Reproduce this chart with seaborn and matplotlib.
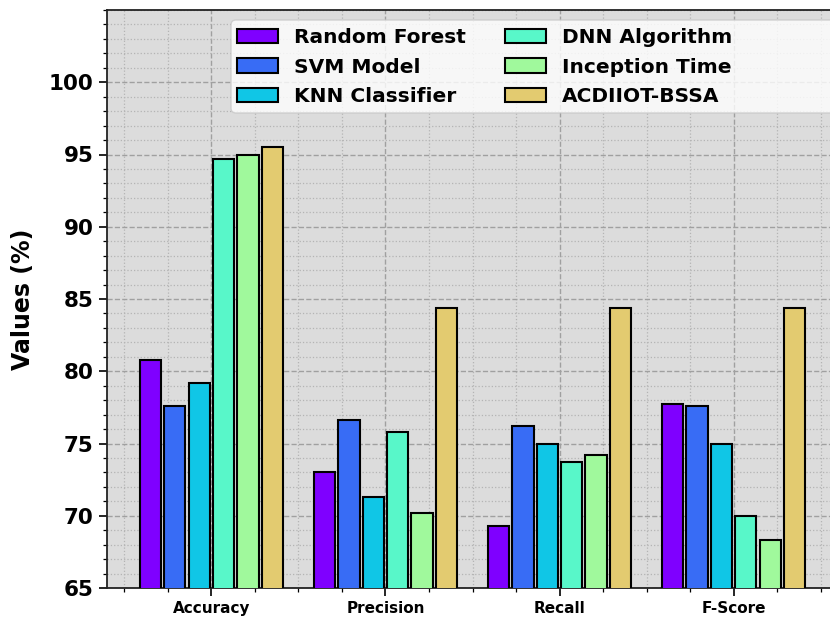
import matplotlib
matplotlib.use("Agg")
import matplotlib.pyplot as plt
from matplotlib.ticker import MultipleLocator
from matplotlib.patches import FancyBboxPatch
import pandas as pd
import seaborn as sns

metrics = ["Accuracy", "Precision", "Recall", "F-Score"]
models = ["Random Forest", "SVM Model", "KNN Classifier",
          "DNN Algorithm", "Inception Time", "ACDIIOT-BSSA"]
random_forest = [80.8, 73.0, 69.3, 77.7]
svm_model = [77.6, 76.6, 76.2, 77.6]
knn_classifier = [79.2, 71.3, 75.0, 75.0]
dnn_algorithm = [94.7, 75.8, 73.7, 70.0]
inception_time = [95.0, 70.2, 74.2, 68.3]
acdiiot_bssa = [95.5, 84.4, 84.4, 84.4]
colors = ["#7f00ff", "#386cf5", "#10c6e6", "#58f7c9", "#a0f99c", "#e3cb70"]

series = [random_forest, svm_model, knn_classifier,
          dnn_algorithm, inception_time, acdiiot_bssa]
rows = []
for model, vals in zip(models, series):
    for metric, v in zip(metrics, vals):
        rows.append({"Metric": metric, "Model": model, "Value": v})
df = pd.DataFrame(rows)

sns.set_theme(style="ticks")
plt.rcParams["font.family"] = ["DejaVu Sans"]
plt.rcParams["text.color"] = "black"
plt.rcParams["axes.labelcolor"] = "black"
plt.rcParams["xtick.color"] = "black"
plt.rcParams["ytick.color"] = "black"

W, H = 830, 619
fig = plt.figure(figsize=(W / 100, H / 100), dpi=100)
ax = fig.add_axes([107 / W, 31 / H, 731 / W, 578 / H])
ax.set_facecolor("#dcdcdc")

sns.barplot(data=df, x="Metric", y="Value", hue="Model", order=metrics,
            hue_order=models, palette=colors, saturation=1, width=0.84,
            gap=0.13, edgecolor="black", linewidth=1.5, ax=ax, legend=True,
            zorder=3)

ax.set_ylim(65, 105)
ax.set_xlim(-0.6, 3.6)
ax.set_yticks([65, 70, 75, 80, 85, 90, 95, 100])
ax.yaxis.set_minor_locator(MultipleLocator(1))
ax.xaxis.set_minor_locator(MultipleLocator(0.25))

ax.grid(which="major", linestyle="--", color="#a0a0a0", linewidth=1.0, zorder=0)
ax.grid(which="minor", linestyle=":", color="#b4b4b4", linewidth=0.9, zorder=0)
ax.set_axisbelow(True)

ax.tick_params(axis="y", which="major", direction="out", length=6, width=1.2,
               labelsize=15.5)
ax.tick_params(axis="y", which="minor", direction="out", length=3, width=0.9)
ax.tick_params(axis="x", which="major", direction="out", length=6, width=1.2,
               labelsize=11)
ax.tick_params(axis="x", which="minor", direction="out", length=3, width=0.9)
for lbl in ax.get_yticklabels() + ax.get_xticklabels():
    lbl.set_fontweight("bold")

ax.set_xlabel("")
ax.set_ylabel("Values (%)", fontsize=17, fontweight="bold", labelpad=10)

for side in ["left", "bottom", "top", "right"]:
    ax.spines[side].set_color("#222222")
    ax.spines[side].set_linewidth(1.3)

# Legend frame reaching to the right edge, drawn separately from the entries
frame = FancyBboxPatch((231 / W, 1 - 113 / H), (845 - 231) / W, 93 / H,
                       boxstyle="round,pad=0,rounding_size=0.006",
                       mutation_aspect=W / H, transform=fig.transFigure,
                       facecolor="white", alpha=0.8, edgecolor="#c8c8c8",
                       linewidth=1.0, zorder=8)
fig.patches.append(frame)

handles, labels = ax.get_legend_handles_labels()
ax.get_legend().remove()
leg = fig.legend(handles, labels, ncol=2, loc="upper left",
                 bbox_to_anchor=(231 / W, 1 - 22 / H),
                 bbox_transform=fig.transFigure,
                 prop={"weight": "bold", "size": 14.5}, frameon=False,
                 handlelength=2.05, handleheight=0.7, handletextpad=0.8,
                 columnspacing=1.9, labelspacing=0.52, borderpad=0.3,
                 borderaxespad=0)
leg.set_zorder(10)

fig.savefig("out.png", dpi=100)
